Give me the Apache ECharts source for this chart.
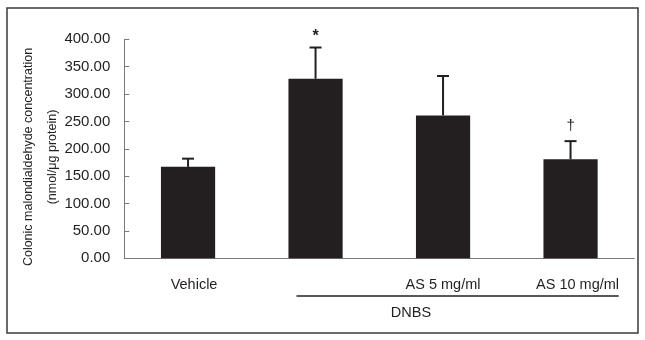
<!DOCTYPE html>
<html>
<head>
<meta charset="utf-8">
<script src="https://cdn.jsdelivr.net/npm/echarts@6/dist/echarts.min.js"></script>
<style>
html,body{margin:0;padding:0;background:#fff;}
#chart{width:645px;height:340px;}
</style>
</head>
<body>
<div id="chart"></div>
<script>
const categories = ['Vehicle', '', 'AS 5 mg/ml', 'AS 10 mg/ml'];
const means = [167, 328, 261, 181];
const errors = [15, 57, 72, 33];
const marks = ['', '*', '', '\u2020'];
const yTicks = { min: 0, max: 400, interval: 50 };
const yAxisTitle = 'Colonic malondialdehyde concentration\n(nmol/\u03bcg protein)';
const groupLabel = 'DNBS';

const FONT = "'Liberation Sans', Arial, sans-serif";
const INK = '#231f20';

const chart = echarts.init(document.getElementById('chart'), null, { renderer: 'canvas' });

const errData = means.map((m, i) => [i, m, errors[i], marks[i]]);

chart.setOption({
  animation: false,
  backgroundColor: '#fff',
  grid: { left: 124.3, right: 10.7, top: 39.3, bottom: 81.7, containLabel: false },
  xAxis: {
    type: 'category',
    data: categories,
    boundaryGap: true,
    axisLine: { lineStyle: { color: '#7a7a7a', width: 1 } },
    axisTick: { inside: true, length: 5, lineStyle: { color: '#7a7a7a' } },
    axisLabel: {
      interval: 0, hideOverlap: false,
      color: INK, fontFamily: FONT, fontSize: 14.5, margin: 19,
      formatter: function (v, i) {
        if (i === 0) return '{a|' + v + '}';
        if (i === 3) return '{b|' + v + '}';
        return v;
      },
      rich: {
        a: { color: INK, fontFamily: FONT, fontSize: 14.5, padding: [0, 0, 0, 12] },
        b: { color: INK, fontFamily: FONT, fontSize: 14.5, padding: [0, 0, 0, 14] }
      }
    }
  },
  yAxis: {
    type: 'value',
    min: yTicks.min, max: yTicks.max, interval: yTicks.interval,
    splitLine: { show: false },
    axisLine: { show: true, lineStyle: { color: '#7a7a7a', width: 1 } },
    axisTick: { show: true, inside: true, length: 5, lineStyle: { color: '#7a7a7a' } },
    axisLabel: { color: INK, fontFamily: FONT, fontSize: 15, margin: 14,
      formatter: v => v.toFixed(2) }
  },
  series: [
    {
      type: 'bar',
      data: means,
      barWidth: '42.5%',
      itemStyle: { color: INK },
      silent: true
    },
    {
      type: 'custom',
      data: errData,
      z: 5,
      renderItem: function (params, api) {
        const x = api.value(0);
        const m = api.value(1);
        const e = api.value(2);
        const mk = marks[params.dataIndex];
        const p0 = api.coord([x, m]);
        const p1 = api.coord([x, m + e]);
        const children = [
          { type: 'line', shape: { x1: p0[0], y1: p0[1], x2: p1[0], y2: p1[1] },
            style: { stroke: INK, lineWidth: 2 } },
          { type: 'line', shape: { x1: p1[0] - 6, y1: p1[1], x2: p1[0] + 6, y2: p1[1] },
            style: { stroke: INK, lineWidth: 2 } }
        ];
        if (mk) {
          const isStar = mk === '*';
          children.push({
            type: 'text',
            style: {
              text: mk, x: p1[0], y: p1[1] - (isStar ? 3 : 8),
              align: 'center', verticalAlign: 'bottom',
              fill: INK, font: (isStar ? 'bold 16px ' : '15px ') + FONT
            }
          });
        }
        return { type: 'group', children };
      }
    }
  ],
  graphic: [
    { type: 'rect', shape: { x: 7, y: 8, width: 631, height: 325 },
      style: { fill: 'none', stroke: '#3a3a3a', lineWidth: 1.5 }, z: 100 },
    { type: 'text', x: 41, y: 157, rotation: Math.PI / 2,
      style: { text: yAxisTitle, align: 'center', verticalAlign: 'middle',
        fill: INK, font: '12.5px ' + FONT, lineHeight: 24 } },
    { type: 'line', shape: { x1: 296.5, y1: 296, x2: 618.7, y2: 296 },
      style: { stroke: INK, lineWidth: 1.5 } },
    { type: 'text', x: 411, y: 312.5,
      style: { text: groupLabel, align: 'center', verticalAlign: 'middle',
        fill: INK, font: '14.5px ' + FONT } }
  ]
});
</script>
</body>
</html>
